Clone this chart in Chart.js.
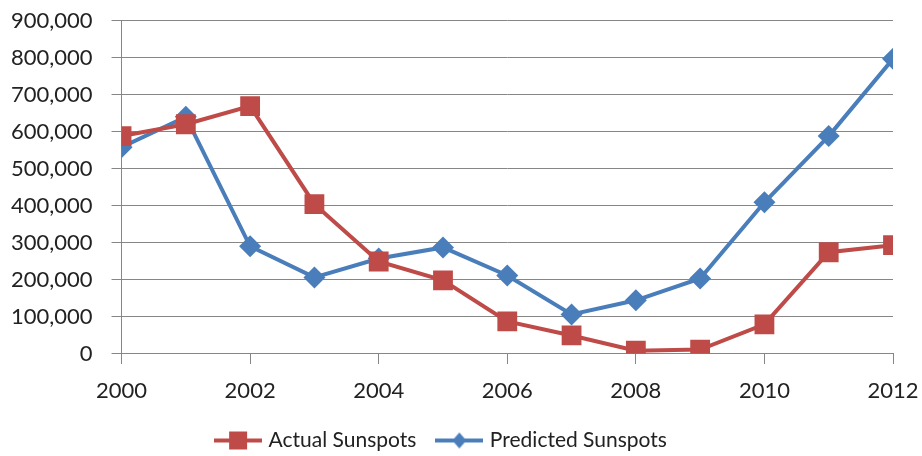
<!DOCTYPE html>
<html>
<head>
<meta charset="utf-8">
<script src="https://cdn.jsdelivr.net/npm/chart.js@4"></script>
<style>
html,body{margin:0;padding:0;background:#fff;overflow:hidden;}
#wrap{width:922px;height:456px;position:relative;}
</style>
</head>
<body>
<div id="wrap"><canvas id="c" width="922" height="456"></canvas></div>
<script>
const years = [2000,2001,2002,2003,2004,2005,2006,2007,2008,2009,2010,2011,2012];
const actualSunspots = [588000,620000,669000,404000,249000,198000,87000,49000,8000,11000,79000,274000,293000];
const predictedSunspots = [558000,640000,290000,206000,257000,287000,211000,106000,144000,203000,409000,588000,797000];
const seriesNames = ['Actual Sunspots','Predicted Sunspots'];

const RED = '#BE4B48';
const BLUE = '#4A7EBB';
const FONT = 'Lato';

function legendIcon(color, style){
  const cv = document.createElement('canvas');
  cv.width = 48; cv.height = 20;
  const c = cv.getContext('2d');
  c.strokeStyle = color; c.lineWidth = 4;
  c.beginPath(); c.moveTo(0,10); c.lineTo(48,10); c.stroke();
  c.fillStyle = color;
  if(style==='rect'){ c.fillRect(15,1,18,18); }
  else { c.beginPath(); c.moveTo(24,2); c.lineTo(31,10); c.lineTo(24,18); c.lineTo(17,10); c.closePath(); c.fill(); }
  return cv;
}
const icons = [legendIcon(RED,'rect'), legendIcon(BLUE,'diamond')];

new Chart(document.getElementById('c'), {
  type: 'line',
  data: {
    datasets: [
      { label: seriesNames[0], data: years.map((y,i)=>({x:y,y:actualSunspots[i]})),
        borderColor: RED, backgroundColor: RED, borderWidth: 4,
        pointStyle: 'rect', pointRadius: 14, pointHoverRadius: 14, pointBorderWidth: 0 },
      { label: seriesNames[1], data: years.map((y,i)=>({x:y,y:predictedSunspots[i]})),
        borderColor: BLUE, backgroundColor: BLUE, borderWidth: 4,
        pointStyle: 'rectRot', pointRadius: 11, pointHoverRadius: 11, pointBorderWidth: 0 }
    ]
  },
  options: {
    responsive: false,
    animation: false,
    layout: { padding: { left: -8, right: 29, top: 0, bottom: -5 } },
    plugins: {
      tooltip: { enabled: false },
      legend: {
        position: 'bottom',
        labels: {
          font: { family: FONT, size: 21 },
          color: '#222',
          usePointStyle: true,
          pointStyleWidth: 40,
          boxHeight: 20,
          padding: 23,
          generateLabels: (chart) => chart.data.datasets.map((ds,i)=>({
            text: ds.label, pointStyle: icons[i], fillStyle: ds.borderColor,
            strokeStyle: ds.borderColor, lineWidth: 0, datasetIndex: i, hidden: false, fontColor: '#222'
          }))
        }
      }
    },
    scales: {
      x: {
        type: 'linear', min: 2000, max: 2012,
        ticks: { stepSize: 2, font: { family: FONT, size: 22 }, color: '#222', padding: 3,
                 callback: v => String(v) },
        grid: { drawOnChartArea: false, drawTicks: true, tickLength: 21, color: '#868686',
                tickBorderDash: [10, 60] },
        border: { color: '#868686' }
      },
      y: {
        min: 0, max: 900000,
        ticks: { stepSize: 100000, font: { family: FONT, size: 22, lineHeight: 0.15 }, color: '#222', padding: 19,
                 callback: v => v.toLocaleString('en-US') },
        grid: { color: '#868686', tickLength: 10 },
        border: { color: '#868686' }
      }
    }
  }
});
</script>
</body>
</html>
